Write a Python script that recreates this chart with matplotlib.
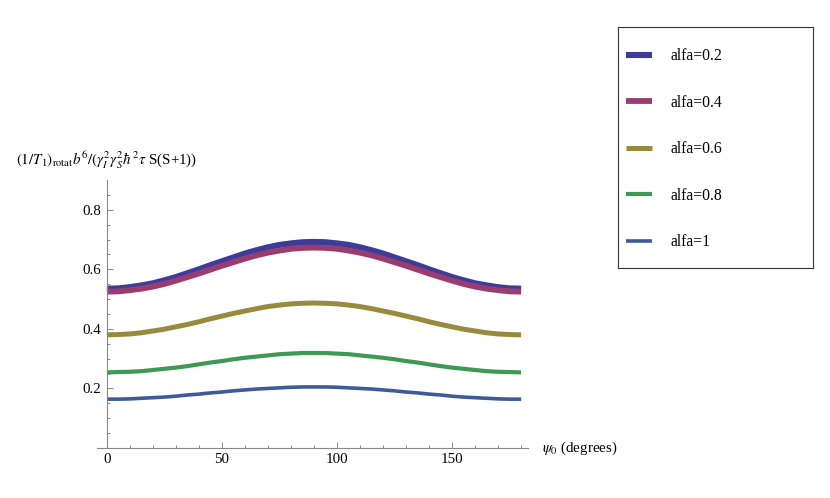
import matplotlib.pyplot as plt
from matplotlib.patches import Rectangle
import numpy as np

plt.rcParams['font.family'] = 'Liberation Serif'
plt.rcParams['mathtext.fontset'] = 'stix'

# angle psi_0 in degrees, every 5 degrees
psi = list(range(0, 181, 5))

# rate for each alfa (symmetric about 90 degrees)
a02 = [0.535, 0.536, 0.540, 0.546, 0.553, 0.563, 0.574, 0.587, 0.600, 0.614,
       0.627, 0.640, 0.653, 0.664, 0.674, 0.682, 0.687, 0.691, 0.692,
       0.691, 0.687, 0.682, 0.674, 0.664, 0.653, 0.640, 0.627, 0.614,
       0.600, 0.587, 0.574, 0.563, 0.553, 0.546, 0.540, 0.536, 0.535]
a04 = [0.525, 0.526, 0.530, 0.535, 0.542, 0.551, 0.562, 0.574, 0.586, 0.599,
       0.612, 0.624, 0.636, 0.647, 0.656, 0.663, 0.669, 0.672, 0.673,
       0.672, 0.669, 0.663, 0.656, 0.647, 0.636, 0.624, 0.612, 0.599,
       0.586, 0.574, 0.562, 0.551, 0.542, 0.535, 0.530, 0.526, 0.525]
a06 = [0.380, 0.381, 0.383, 0.387, 0.393, 0.399, 0.407, 0.415, 0.424, 0.434,
       0.443, 0.452, 0.460, 0.468, 0.475, 0.480, 0.484, 0.486, 0.487,
       0.486, 0.484, 0.480, 0.475, 0.468, 0.460, 0.452, 0.443, 0.434,
       0.424, 0.415, 0.407, 0.399, 0.393, 0.387, 0.383, 0.381, 0.380]
a08 = [0.254, 0.255, 0.256, 0.258, 0.262, 0.266, 0.270, 0.275, 0.281, 0.287,
       0.292, 0.298, 0.303, 0.307, 0.311, 0.315, 0.317, 0.319, 0.319,
       0.319, 0.317, 0.315, 0.311, 0.307, 0.303, 0.298, 0.292, 0.287,
       0.281, 0.275, 0.270, 0.266, 0.262, 0.258, 0.256, 0.255, 0.254]
a10 = [0.164, 0.164, 0.165, 0.167, 0.169, 0.171, 0.174, 0.178, 0.181, 0.185,
       0.188, 0.192, 0.195, 0.198, 0.200, 0.202, 0.204, 0.205, 0.205,
       0.205, 0.204, 0.202, 0.200, 0.198, 0.195, 0.192, 0.188, 0.185,
       0.181, 0.178, 0.174, 0.171, 0.169, 0.167, 0.165, 0.164, 0.164]

series = [a02, a04, a06, a08, a10]
labels = ['alfa=0.2', 'alfa=0.4', 'alfa=0.6', 'alfa=0.8', 'alfa=1']
colors = ['#3d3d99', '#993d71', '#998b3d', '#3d9954', '#3d5a99']
widths = [4.4, 4.2, 3.6, 3.0, 2.6]

fig = plt.figure(figsize=(8.3, 4.98), dpi=100)
ax = fig.add_axes([97/830, 50/498, 431/830, 268/498])

for ys, lab, c, w in zip(series, labels, colors, widths):
    ax.plot(psi, ys, color=c, lw=w, label=lab, solid_capstyle='butt')

ax.set_xlim(-4.3, 183)
ax.set_ylim(0, 0.9)
for s in ['top', 'right']:
    ax.spines[s].set_visible(False)
ax.spines['left'].set_position(('data', 0))
ax.spines['bottom'].set_position(('data', 0))
for s in ['left', 'bottom']:
    ax.spines[s].set_color('#888888')
    ax.spines[s].set_linewidth(0.8)

ax.set_xticks([0, 50, 100, 150])
ax.set_xticks(np.arange(10, 181, 10), minor=True)
ax.set_yticks([0.2, 0.4, 0.6, 0.8])
ax.set_yticks(np.arange(0.05, 0.9, 0.05), minor=True)
ax.tick_params(which='both', direction='in', color='#888888', labelsize=10.8, width=0.7)
ax.tick_params(which='major', length=4, pad=3.8)
ax.tick_params(which='minor', length=2.3)

fig.text(16/830, 1-160/498, r'$(1/T_1)_{\rm rotat}b^6/(\gamma_I^2\gamma_S^2\hbar^2\tau$ S(S+1))',
         fontsize=10.8, va='center', ha='left')
fig.text(542/830, 1-448/498, r'$\psi_0$ (degrees)', fontsize=10.8, va='center', ha='left')

# legend box: frame drawn separately so the padding matches
fig.patches.append(Rectangle((618/830, 1-268/498), 195/830, 241/498,
                             transform=fig.transFigure, fill=False,
                             edgecolor='#333333', lw=0.8))
leg = fig.legend(loc='upper left', bbox_to_anchor=(626/830, 1-48.5/498),
                 fontsize=11.3, frameon=False,
                 handlelength=1.66, handletextpad=1.2, labelspacing=1.94,
                 borderpad=0, borderaxespad=0)

plt.savefig('out.png')
